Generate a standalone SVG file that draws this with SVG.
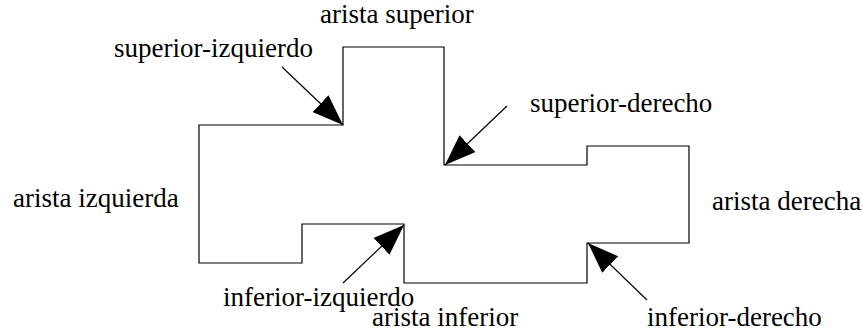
<svg xmlns="http://www.w3.org/2000/svg" width="863" height="332" viewBox="0 0 863 332">
  <style>
    .label { font-family: "Liberation Serif", "Times New Roman", serif; font-size: 27px; fill: #000; }
    .outline { fill: none; stroke: #000; stroke-width: 1.2; }
    .pointer { stroke: #000; stroke-width: 1.2; fill: none; marker-end: url(#head); }
  </style>
  <defs>
    <marker id="head" viewBox="0 0 31 23" refX="31" refY="11.5" markerWidth="31" markerHeight="23" markerUnits="userSpaceOnUse" orient="auto">
      <path d="M0,0 L31,11.5 L0,23 Z" fill="#000"/>
    </marker>
  </defs>

  <!-- stepped outline -->
  <g id="outline">
    <polygon class="outline" points="199,125 343,125 343,47 444,47 444,165 587,165 587,146 689,146 689,243 587,243 587,283 404,283 404,224 302,224 302,263 199,263"/>
  </g>

  <!-- edge labels -->
  <g id="edge-top"><text class="label" x="320" y="23">arista superior</text></g>
  <g id="edge-left"><text class="label" x="13" y="207">arista izquierda</text></g>
  <g id="edge-right"><text class="label" x="712" y="210">arista derecha</text></g>
  <g id="edge-bottom"><text class="label" x="372" y="326">arista inferior</text></g>

  <!-- corner labels -->
  <g id="corner-top-left"><text class="label" x="114" y="57">superior-izquierdo</text></g>
  <g id="corner-top-right"><text class="label" x="530" y="112">superior-derecho</text></g>
  <g id="corner-bottom-left"><text class="label" x="223" y="306">inferior-izquierdo</text></g>
  <g id="corner-bottom-right"><text class="label" x="647" y="326">inferior-derecho</text></g>

  <!-- pointers to the corners -->
  <g id="connectors">
    <line class="pointer" x1="282" y1="67" x2="343" y2="125"/>
    <line class="pointer" x1="507" y1="106" x2="445" y2="165"/>
    <line class="pointer" x1="343" y1="283" x2="404" y2="225"/>
    <line class="pointer" x1="647" y1="300" x2="588" y2="243"/>
  </g>
</svg>
